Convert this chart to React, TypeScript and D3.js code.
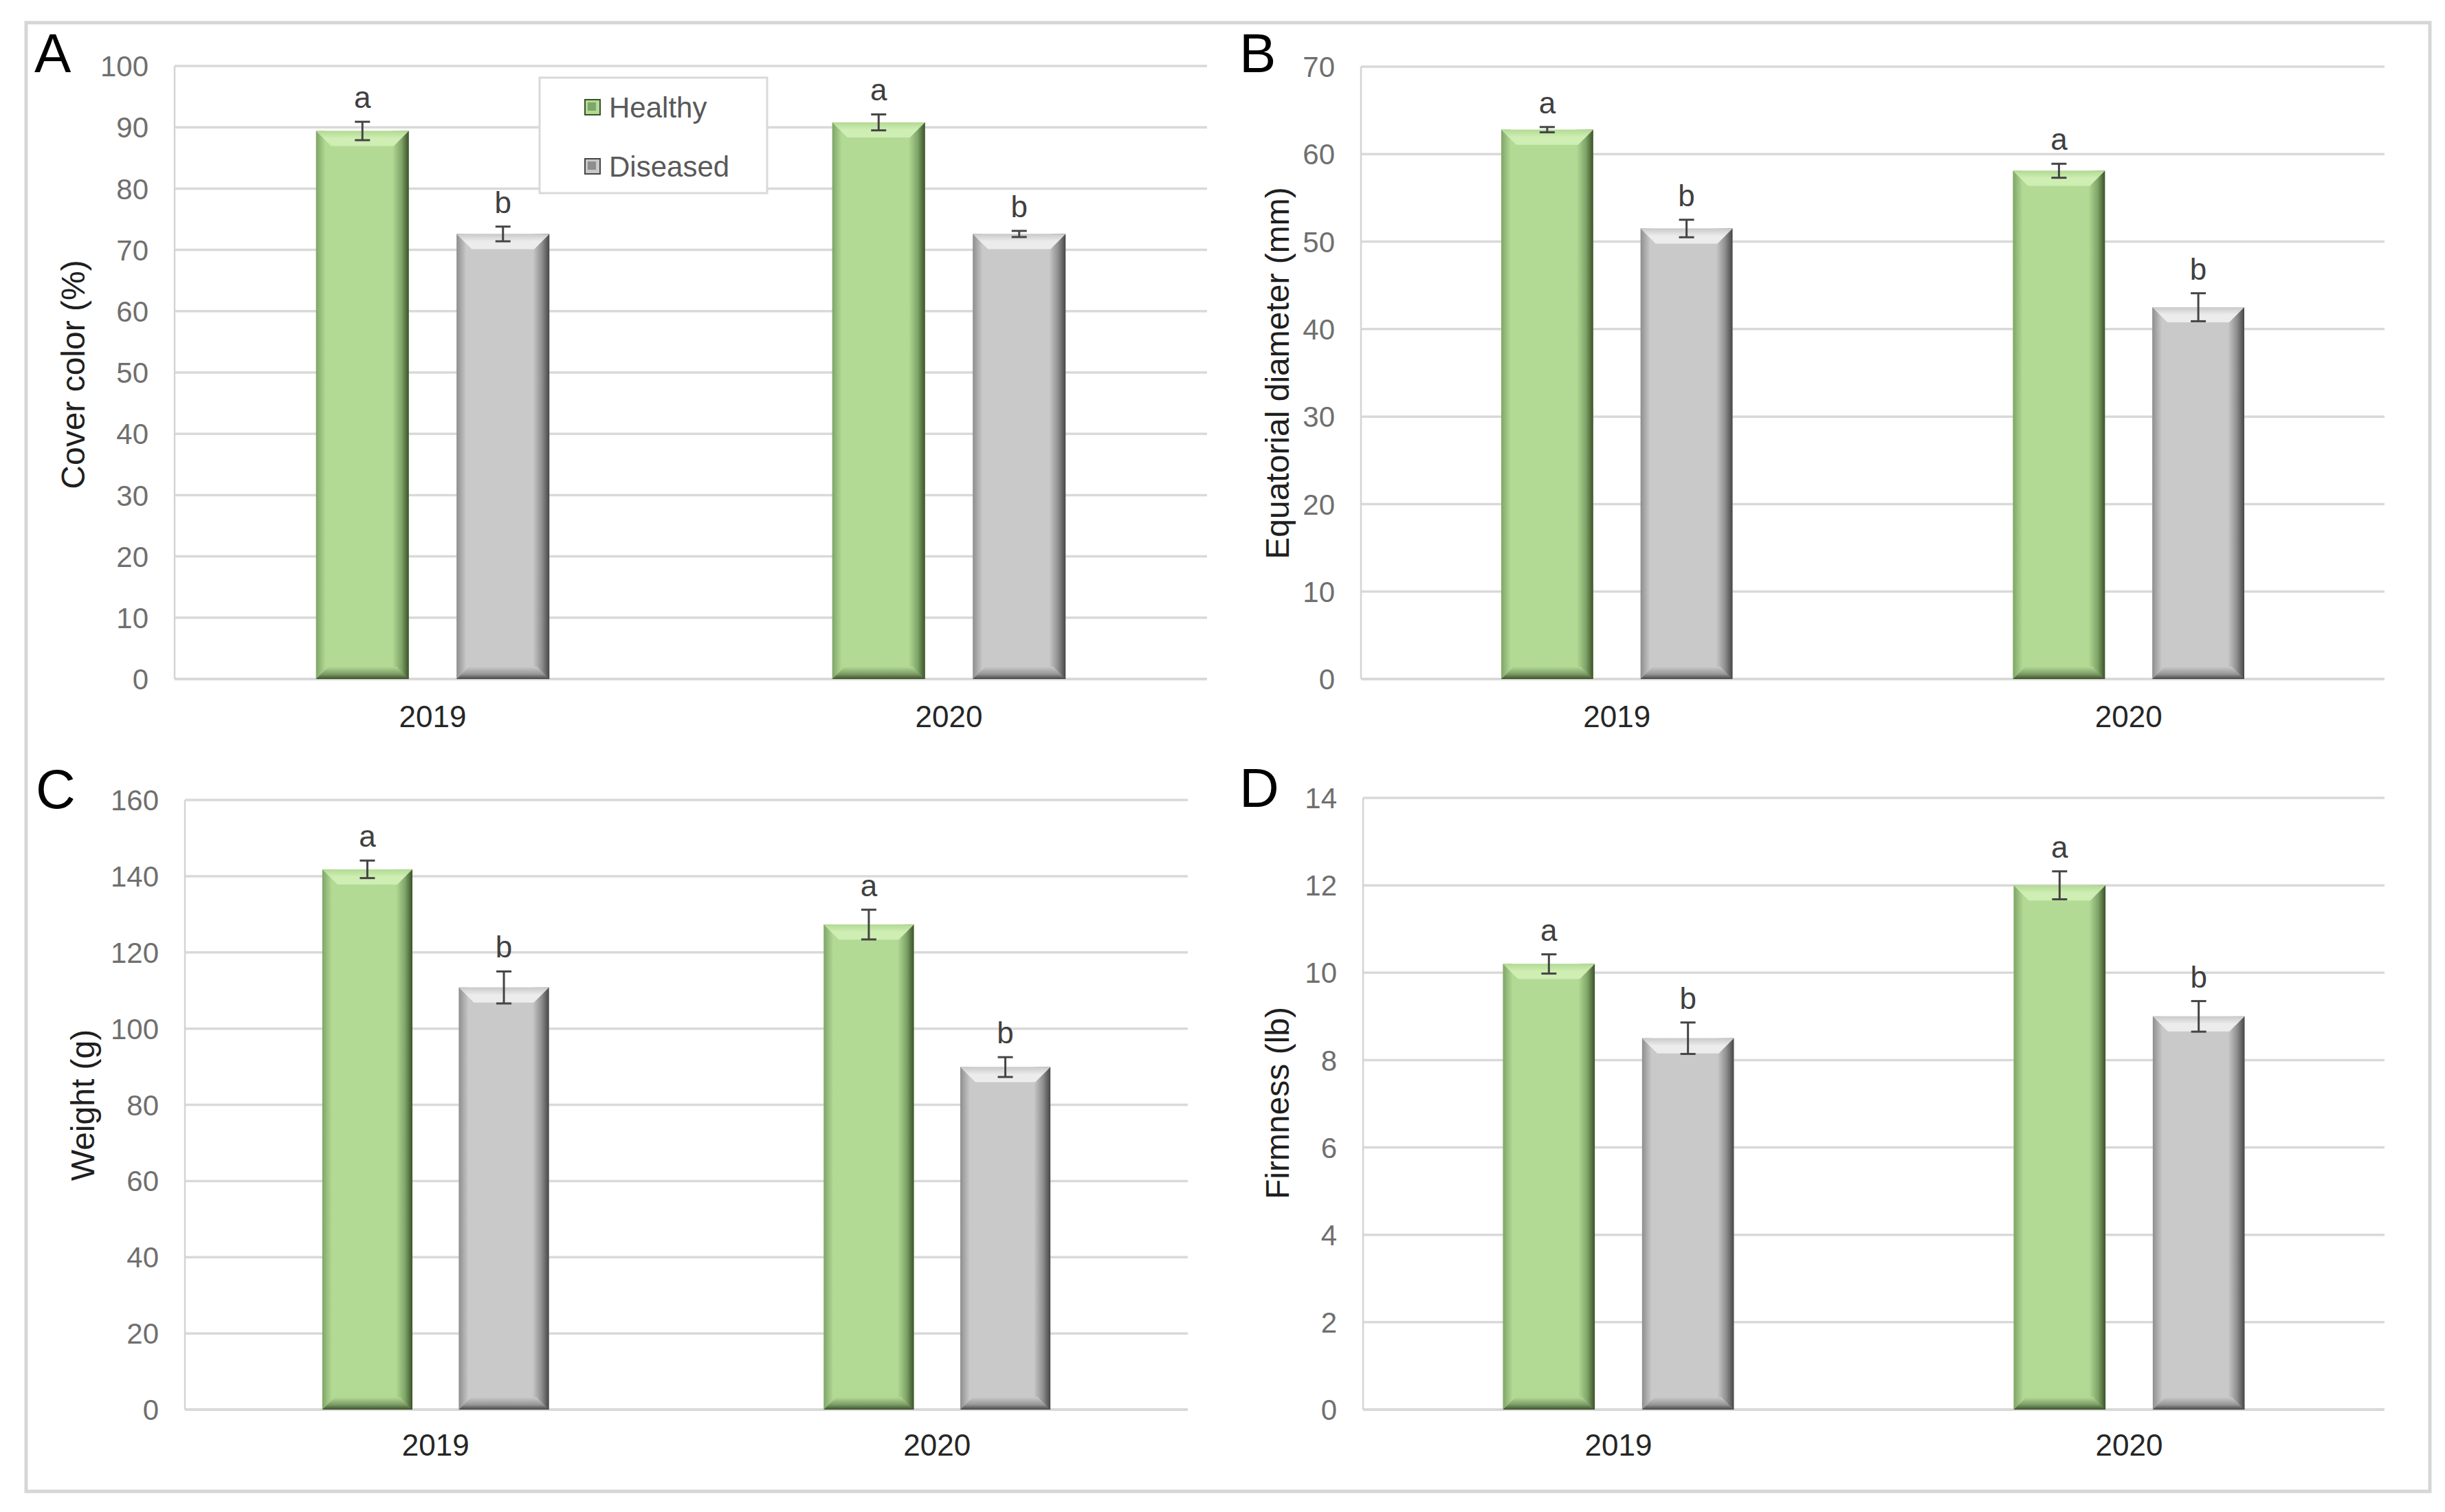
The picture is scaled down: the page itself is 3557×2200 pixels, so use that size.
import React from "react";
import * as d3 from "d3";

const years = ["2019", "2020"];
const series = ["Healthy", "Diseased"];
const letters = ["a", "b"];

const coverHealthy = [89.4, 90.8];
const coverDiseased = [72.6, 72.6];
const coverHealthyErr = [1.5, 1.3];
const coverDiseasedErr = [1.2, 0.5];
const coverTicks = [0, 10, 20, 30, 40, 50, 60, 70, 80, 90, 100];

const diamHealthy = [62.8, 58.1];
const diamDiseased = [51.5, 42.5];
const diamHealthyErr = [0.3, 0.8];
const diamDiseasedErr = [1.0, 1.6];
const diamTicks = [0, 10, 20, 30, 40, 50, 60, 70];

const weightHealthy = [141.8, 127.3];
const weightDiseased = [110.8, 89.9];
const weightHealthyErr = [2.3, 3.9];
const weightDiseasedErr = [4.2, 2.6];
const weightTicks = [0, 20, 40, 60, 80, 100, 120, 140, 160];

const firmHealthy = [10.2, 12.0];
const firmDiseased = [8.5, 9.0];
const firmHealthyErr = [0.22, 0.32];
const firmDiseasedErr = [0.36, 0.35];
const firmTicks = [0, 2, 4, 6, 8, 10, 12, 14];

const FONT = "'Liberation Sans', Arial, sans-serif";

type PanelCfg = {
  letter: string;
  title: string;
  values: number[][];
  errs: number[][];
  ticks: number[];
  x0: number;
  x1: number;
  yTop: number;
  yBottom: number;
  letterX: number;
  letterY: number;
  titleX: number;
  titleY: number;
  catY: number;
  legend?: boolean;
};

const panels: PanelCfg[] = [
  {
    letter: "A", title: "Cover color (%)",
    values: [coverHealthy, coverDiseased], errs: [coverHealthyErr, coverDiseasedErr], ticks: coverTicks,
    x0: 254, x1: 1756, yTop: 96, yBottom: 988,
    letterX: 50, letterY: 105, titleX: 106, titleY: 545, catY: 1058, legend: true,
  },
  {
    letter: "B", title: "Equatorial diameter (mm)",
    values: [diamHealthy, diamDiseased], errs: [diamHealthyErr, diamDiseasedErr], ticks: diamTicks,
    x0: 1980, x1: 3469, yTop: 97, yBottom: 988,
    letterX: 1803, letterY: 105, titleX: 1858, titleY: 543, catY: 1058,
  },
  {
    letter: "C", title: "Weight (g)",
    values: [weightHealthy, weightDiseased], errs: [weightHealthyErr, weightDiseasedErr], ticks: weightTicks,
    x0: 269, x1: 1728, yTop: 1164, yBottom: 2051,
    letterX: 52, letterY: 1176, titleX: 120, titleY: 1608, catY: 2118,
  },
  {
    letter: "D", title: "Firmness (lb)",
    values: [firmHealthy, firmDiseased], errs: [firmHealthyErr, firmDiseasedErr], ticks: firmTicks,
    x0: 1983, x1: 3469, yTop: 1161, yBottom: 2051,
    letterX: 1803, letterY: 1174, titleX: 1858, titleY: 1605, catY: 2118,
  },
];

const palette = {
  Healthy: { fill: "#b2da94", top: "#cfeeb3", side: "#7fa568", dark: "#3b5229", bottom: "#7c9c66" },
  Diseased: { fill: "#c9c9c9", top: "#ececec", side: "#8e8e8e", dark: "#464646", bottom: "#979797" },
} as const;

function Bar({ x, y, w, h, s }: { x: number; y: number; w: number; h: number; s: "Healthy" | "Diseased" }) {
  const p = palette[s];
  const bt = 22;
  const bb = 18;
  const ls = 14;
  const rs = 24;
  return (
    <g>
      <rect x={x} y={y} width={w} height={h} fill={p.fill} />
      <rect x={x} y={y} width={ls} height={h} fill={`url(#left-${s})`} />
      <rect x={x + w - rs} y={y} width={rs} height={h} fill={`url(#right-${s})`} />
      <polygon
        points={`${x},${y} ${x + w},${y} ${x + w - bt},${y + bt} ${x + bt},${y + bt}`}
        fill={`url(#top-${s})`}
      />
      <polygon
        points={`${x},${y + h} ${x + w},${y + h} ${x + w - bb},${y + h - bb} ${x + bb},${y + h - bb}`}
        fill={`url(#bot-${s})`}
      />
    </g>
  );
}

function Panel({ cfg }: { cfg: PanelCfg }) {
  const yMax = cfg.ticks[cfg.ticks.length - 1];
  const y = d3.scaleLinear().domain([0, yMax]).range([cfg.yBottom, cfg.yTop]);
  const x0 = d3.scaleBand<string>().domain(years).range([cfg.x0, cfg.x1]).paddingInner(0).paddingOuter(0);
  const band = x0.bandwidth();
  const groupW = band * 0.452;
  const x1 = d3.scaleBand<string>().domain(series).range([0, groupW]).paddingInner(0.34).paddingOuter(0);
  const bw = x1.bandwidth();

  return (
    <g>
      {cfg.ticks.map((t) => (
        <line key={"g" + t} x1={cfg.x0} x2={cfg.x1} y1={y(t)} y2={y(t)} stroke="#d9d9d9" strokeWidth={t === 0 ? 4 : 3.5} />
      ))}
      <line x1={cfg.x0} x2={cfg.x0} y1={y(yMax)} y2={y(0)} stroke="#d4d4d4" strokeWidth={2.5} />
      {cfg.ticks.map((t) => (
        <text key={"t" + t} x={cfg.x0 - 38} y={y(t)} dy="0.36em" textAnchor="end" fontFamily={FONT} fontSize={42} fill="#6f6f6f">
          {t}
        </text>
      ))}
      {years.map((yr) => (
        <text key={"c" + yr} x={(x0(yr) as number) + band / 2} y={cfg.catY} textAnchor="middle" fontFamily={FONT} fontSize={44} fill="#262626">
          {yr}
        </text>
      ))}
      {years.map((yr, i) =>
        series.map((s, j) => {
          const v = cfg.values[j][i];
          const e = cfg.errs[j][i];
          const bx = (x0(yr) as number) + (band - groupW) / 2 + (x1(s) as number);
          const cx = bx + bw / 2;
          const top = y(v);
          return (
            <g key={yr + s}>
              <Bar x={bx} y={top} w={bw} h={y(0) - top} s={s as "Healthy" | "Diseased"} />
              <line x1={cx} x2={cx} y1={y(v + e)} y2={y(v - e)} stroke="#454545" strokeWidth={3} />
              <line x1={cx - 11} x2={cx + 11} y1={y(v + e)} y2={y(v + e)} stroke="#454545" strokeWidth={3} />
              <line x1={cx - 11} x2={cx + 11} y1={y(v - e)} y2={y(v - e)} stroke="#454545" strokeWidth={3} />
              <text x={cx} y={y(v + e) - 20} textAnchor="middle" fontFamily={FONT} fontSize={44} fill="#404040">
                {letters[j]}
              </text>
            </g>
          );
        })
      )}
      <text x={cfg.letterX} y={cfg.letterY} fontFamily={FONT} fontSize={80} fill="#000">
        {cfg.letter}
      </text>
      <text
        transform={`translate(${cfg.titleX},${cfg.titleY}) rotate(-90)`}
        textAnchor="middle"
        dy="0.35em"
        fontFamily={FONT}
        fontSize={48}
        fill="#1f1f1f"
      >
        {cfg.title}
      </text>
      {cfg.legend && (
        <g>
          <rect x={785} y={113} width={331} height={168} fill="#fff" stroke="#d9d9d9" strokeWidth={3} />
          {series.map((s, j) => {
            const cy = j === 0 ? 156 : 242;
            return (
              <g key={"l" + s}>
                <rect x={851} y={cy - 11} width={22} height={22} fill={palette[s as "Healthy" | "Diseased"].fill} stroke={palette[s as "Healthy" | "Diseased"].dark} strokeWidth={2} />
                <rect x={855} y={cy - 7} width={12} height={12} fill={palette[s as "Healthy" | "Diseased"].side} />
                <text x={886} y={cy} dy="0.36em" fontFamily={FONT} fontSize={42} fill="#595959">
                  {s}
                </text>
              </g>
            );
          })}
        </g>
      )}
    </g>
  );
}

export default function App() {
  return (
    <svg width={3557} height={2200} style={{ position: "absolute", left: 0, top: 0, background: "#fff" }}>
      <defs>
        {series.map((s) => {
          const p = palette[s as "Healthy" | "Diseased"];
          return (
            <React.Fragment key={s}>
              <linearGradient id={`left-${s}`} x1="0" x2="1" y1="0" y2="0">
                <stop offset="0" stopColor={p.side} />
                <stop offset="1" stopColor={p.fill} />
              </linearGradient>
              <linearGradient id={`right-${s}`} x1="0" x2="1" y1="0" y2="0">
                <stop offset="0" stopColor={p.fill} />
                <stop offset="0.55" stopColor={p.side} />
                <stop offset="1" stopColor={p.dark} />
              </linearGradient>
              <linearGradient id={`top-${s}`} x1="0" x2="0" y1="0" y2="1">
                <stop offset="0" stopColor={p.fill} />
                <stop offset="0.5" stopColor={p.top} />
                <stop offset="1" stopColor={p.top} />
              </linearGradient>
              <linearGradient id={`bot-${s}`} x1="0" x2="0" y1="0" y2="1">
                <stop offset="0" stopColor={p.fill} />
                <stop offset="0.6" stopColor={p.bottom} />
                <stop offset="1" stopColor={p.dark} />
              </linearGradient>
            </React.Fragment>
          );
        })}
      </defs>
      <rect x={0} y={0} width={3557} height={2200} fill="#fff" />
      <rect x={38} y={33} width={3497} height={2137} fill="none" stroke="#d6d6d6" strokeWidth={5} />
      {panels.map((p) => (
        <Panel key={p.letter} cfg={p} />
      ))}
    </svg>
  );
}
